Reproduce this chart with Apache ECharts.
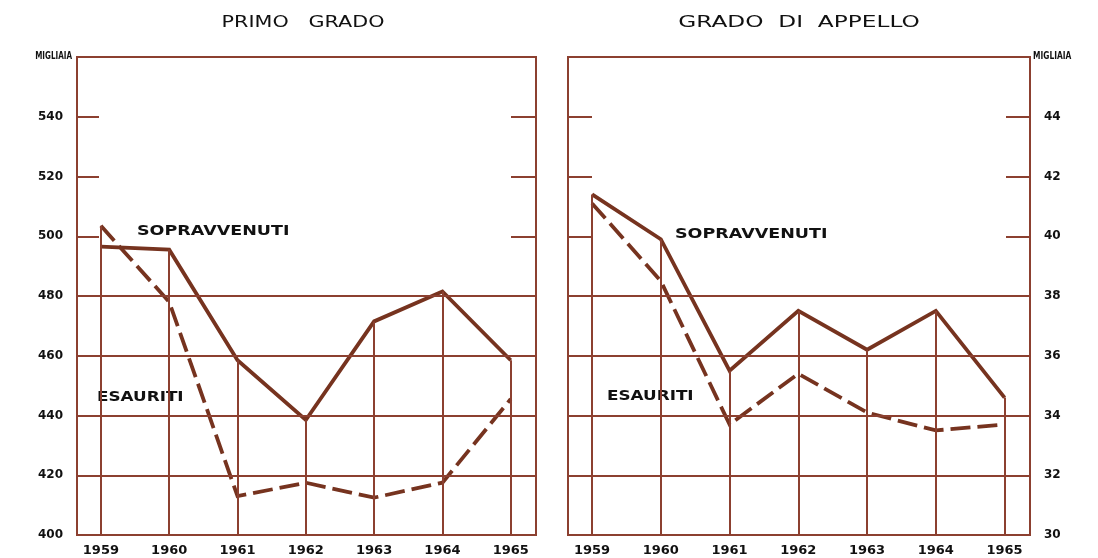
<!DOCTYPE html>
<html>
<head>
<meta charset="utf-8">
<script src="https://cdn.jsdelivr.net/npm/echarts@6/dist/echarts.min.js"></script>
<style>html,body{margin:0;padding:0;background:#fff}#c{width:1098px;height:558px}</style>
</head>
<body>
<div id="c"></div>
<script>
const years = [1959, 1960, 1961, 1962, 1963, 1964, 1965];
const primoSopravvenuti = [496.5, 495.5, 458.5, 438.5, 471.5, 481.5, 458.5];
const primoEsauriti = [503.5, 478, 413, 417.5, 412.5, 417.5, 445.5];
const appelloSopravvenuti = [41.4, 39.9, 35.5, 37.5, 36.2, 37.5, 34.6];
const appelloEsauriti = [41.1, 38.5, 33.7, 35.4, 34.1, 33.5, 33.7];
const primoTicks = [400, 420, 440, 460, 480, 500, 520, 540];
const appelloTicks = [30, 32, 34, 36, 38, 40, 42, 44];
const primoFullGrid = [420, 440, 460, 480];
const appelloFullGrid = [32, 34, 36, 38];

const LINE = '#76331f';
const GRID = '#8c4030';
const FONT = 'DejaVu Sans';

const chart = echarts.init(document.getElementById('c'));

function pts(vals) { return years.map((y, i) => [y, vals[i]]); }
function gridMarks(full, base, s, e) {
  const h = full.map(v => ({ yAxis: v }));
  const v = years.map((y, i) => [{ coord: [y, base] }, { coord: [y, Math.max(s[i], e[i])] }]);
  return {
    silent: true, symbol: 'none', label: { show: false },
    lineStyle: { color: GRID, width: 2, type: 'solid' },
    emphasis: { disabled: true },
    data: h.concat(v)
  };
}
function yAx(grid, pos, min, max, interval, ticks, showLabel, tickLen) {
  return {
    type: 'value', gridIndex: grid, position: pos, min: min, max: max, interval: interval,
    splitLine: { show: false }, axisLine: { show: false },
    axisTick: { show: true, inside: true, length: tickLen, customValues: ticks, lineStyle: { color: GRID, width: 2 } },
    axisLabel: { show: showLabel, customValues: ticks, margin: 14, color: '#111', fontFamily: FONT, fontWeight: 'bold', fontSize: 12 }
  };
}
function xAx(grid) {
  return {
    type: 'value', gridIndex: grid, min: 1958.65, max: 1965.37,
    splitLine: { show: false }, axisLine: { show: false }, axisTick: { show: false },
    axisLabel: { customValues: years, margin: 9, color: '#111', fontFamily: FONT, fontWeight: 'bold', fontSize: 13, formatter: v => String(v) }
  };
}
function ser(x, y, vals, dashed, marks) {
  const s = {
    type: 'line', xAxisIndex: x, yAxisIndex: y, data: pts(vals), symbol: 'none',
    lineStyle: { color: LINE, width: 3.8, type: dashed ? [20, 7] : 'solid', cap: 'butt', join: 'miter' },
    z: 3, silent: true
  };
  if (marks) s.markLine = marks;
  return s;
}
function txt(x, y, t, size, align, weight, sx) {
  return { type: 'text', x: x, y: y, scaleX: sx || 1, style: { text: t, fill: '#111', font: (weight || 'normal') + ' ' + size + 'px "' + FONT + '"', textAlign: align || 'left', textVerticalAlign: 'middle' } };
}

chart.setOption({
  animation: false,
  backgroundColor: '#fff',
  grid: [
    { left: 77, top: 57, width: 459, height: 478, show: true, borderColor: GRID, borderWidth: 2, backgroundColor: 'transparent' },
    { left: 568, top: 57, width: 462, height: 478, show: true, borderColor: GRID, borderWidth: 2, backgroundColor: 'transparent' }
  ],
  xAxis: [xAx(0), xAx(1)],
  yAxis: [
    yAx(0, 'left', 400, 560, 20, primoTicks, true, 22),
    yAx(0, 'right', 400, 560, 20, primoTicks, false, 25),
    yAx(1, 'left', 30, 46, 2, appelloTicks, false, 24),
    yAx(1, 'right', 30, 46, 2, appelloTicks, true, 24)
  ],
  series: [
    ser(0, 0, primoSopravvenuti, false, gridMarks(primoFullGrid, 400, primoSopravvenuti, primoEsauriti)),
    ser(0, 0, primoEsauriti, true),
    ser(1, 3, appelloSopravvenuti, false, gridMarks(appelloFullGrid, 30, appelloSopravvenuti, appelloEsauriti)),
    ser(1, 3, appelloEsauriti, true)
  ],
  graphic: [
    txt(303, 23, 'PRIMO   GRADO', 15, 'center', 'normal', 1.38),
    txt(799, 23, 'GRADO  DI  APPELLO', 15, 'center', 'normal', 1.55),
    txt(72, 56, 'MIGLIAIA', 10, 'right', 'bold', 0.72),
    txt(1033, 56, 'MIGLIAIA', 10, 'left', 'bold', 0.75),
    txt(137, 231, 'SOPRAVVENUTI', 14, 'left', 'bold', 1.25),
    txt(97, 397, 'ESAURITI', 14, 'left', 'bold', 1.2),
    txt(675, 234, 'SOPRAVVENUTI', 14, 'left', 'bold', 1.25),
    txt(607, 396, 'ESAURITI', 14, 'left', 'bold', 1.2)
  ]
});
</script>
</body>
</html>
